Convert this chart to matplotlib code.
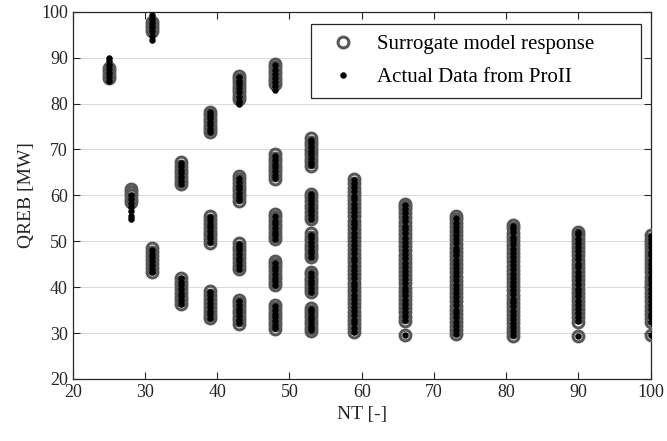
import numpy as np
import matplotlib
matplotlib.use("Agg")
import matplotlib.pyplot as plt

plt.rcParams['font.family'] = ['Liberation Serif', 'DejaVu Serif']

# ---- data ----
nt_values = [25, 28, 31, 35, 39, 43, 48, 53, 59, 66, 73, 81, 90, 100]

sur_25 = [85.6, 86.3, 87.0, 87.7]
act_25 = [85.0, 85.8, 86.7, 87.5, 88.4, 89.2, 90.0]

sur_28 = [58.6, 59.3, 60.0, 60.7, 61.4]
act_28 = [54.8, 55.6, 56.5, 57.4, 58.3, 59.2, 60.1]

sur_31 = [95.9, 96.5, 97.1, 97.7,
          43.2, 44.1, 45.0, 45.9, 46.7, 47.6, 48.5]
act_31 = [93.9, 94.8, 95.7, 96.6, 97.5, 98.4, 99.3,
          43.2, 44.0, 44.9, 45.7, 46.5, 47.3, 48.1]

sur_35 = [62.4, 63.2, 64.0, 64.8, 65.6, 66.4, 67.2,
          36.3, 37.1, 37.9, 38.7, 39.6, 40.4, 41.2, 42.0]
act_35 = [62.4, 63.2, 64.0, 64.8, 65.6, 66.4, 67.1,
          36.4, 37.2, 38.0, 38.8, 39.6, 40.4, 41.2, 41.9]

sur_39 = [73.8, 74.5, 75.2, 76.0, 76.7, 77.5, 78.2,
          49.7, 50.5, 51.3, 52.1, 52.9, 53.8, 54.6, 55.4,
          33.2, 34.0, 34.8, 35.7, 36.5, 37.4, 38.2, 39.1]
act_39 = [73.8, 74.5, 75.3, 76.0, 76.8, 77.5, 78.1,
          49.8, 50.6, 51.4, 52.2, 53.0, 53.8, 54.6, 55.3,
          33.3, 34.1, 34.9, 35.7, 36.5, 37.4, 38.2, 38.9]

sur_43 = [81.0, 81.7, 82.4, 83.1, 83.9, 84.6, 85.3, 86.0,
          58.8, 59.6, 60.4, 61.2, 61.9, 62.7, 63.5, 64.3,
          43.9, 44.7, 45.5, 46.3, 47.2, 48.0, 48.8, 49.6,
          32.0, 32.8, 33.5, 34.3, 35.0, 35.8, 36.5, 37.3]
act_43 = [79.8, 80.6, 81.5, 82.4, 83.3, 84.2, 85.0, 85.8,
          58.9, 59.7, 60.5, 61.3, 62.1, 62.9, 63.7,
          44.0, 44.8, 45.6, 46.4, 47.2, 48.0, 48.8, 49.4,
          32.1, 32.9, 33.7, 34.5, 35.3, 36.1, 36.9]

sur_48 = [84.2, 84.9, 85.6, 86.4, 87.1, 87.9, 88.6,
          63.6, 64.4, 65.2, 65.9, 66.7, 67.5, 68.2, 69.0,
          50.4, 51.2, 52.0, 52.8, 53.6, 54.4, 55.2, 56.0,
          40.4, 41.2, 41.9, 42.7, 43.5, 44.3, 45.0, 45.8,
          30.9, 31.7, 32.4, 33.2, 34.0, 34.7, 35.5, 36.2]
act_48 = [82.9, 83.8, 84.7, 85.6, 86.5, 87.4, 88.3,
          63.7, 64.5, 65.3, 66.1, 66.9, 67.7, 68.6,
          50.5, 51.3, 52.1, 52.9, 53.7, 54.5, 55.4,
          40.5, 41.3, 42.1, 42.9, 43.7, 44.5, 45.3,
          31.0, 31.8, 32.6, 33.4, 34.2, 35.0, 35.8]

sur_53 = [66.4, 67.2, 67.9, 68.7, 69.4, 70.2, 70.9, 71.7, 72.4,
          54.8, 55.6, 56.4, 57.2, 58.0, 58.8, 59.6, 60.4,
          46.5, 47.2, 48.0, 48.7, 49.5, 50.2, 51.0, 51.7,
          38.9, 39.5, 40.2, 40.8, 41.5, 42.1, 42.8, 43.4,
          30.5, 31.2, 31.9, 32.6, 33.4, 34.1, 34.8, 35.5]
act_53 = [66.5, 67.3, 68.1, 68.9, 69.7, 70.5, 71.3, 72.1,
          54.9, 55.7, 56.5, 57.3, 58.1, 58.9, 59.7, 60.3,
          46.6, 47.4, 48.2, 49.0, 49.8, 50.6, 51.4,
          39.0, 39.8, 40.6, 41.4, 42.2, 43.0,
          30.6, 31.4, 32.2, 33.0, 33.8, 34.6, 35.3]

sur_59 = [30.2, 31.1, 32.0, 32.9, 33.8, 34.7, 35.6, 36.5, 37.4, 38.3,
          39.2, 40.1, 41.0, 41.9, 42.8, 43.7, 44.6, 45.5, 46.4, 47.3,
          48.2, 49.1, 50.0, 50.9, 51.8, 52.7, 53.6, 54.5, 55.4, 56.3,
          57.2, 58.1, 59.0, 59.9, 60.8, 61.7, 62.6, 63.5]
act_59 = [30.3, 31.2, 32.1, 32.9, 33.9, 34.8, 35.6, 36.6, 37.5, 38.3,
          39.3, 40.2, 41.0, 42.0, 42.9, 43.7, 44.7, 45.6, 46.4, 47.4,
          48.3, 49.1, 50.1, 51.0, 51.8, 52.8, 53.7, 54.5, 55.5, 56.4,
          57.2, 58.2, 59.1, 59.9, 60.9, 61.8, 62.6, 63.3]

sur_66 = [29.5, 32.7, 33.6, 34.5, 35.4, 36.3, 37.2, 38.1, 39.0, 39.9,
          40.8, 41.7, 42.6, 43.5, 44.4, 45.3, 46.2, 47.1, 48.0, 48.9,
          49.8, 50.7, 51.6, 52.5, 53.4, 54.3, 55.2, 56.1, 57.0, 57.6,
          58.2]
act_66 = [29.5, 32.8, 33.7, 34.5, 35.5, 36.4, 37.2, 38.2, 39.1, 39.9,
          40.9, 41.8, 42.6, 43.6, 44.5, 45.3, 46.3, 47.2, 48.0, 49.0,
          49.9, 50.7, 51.7, 52.6, 53.4, 54.4, 55.3, 56.1, 57.1, 58.0]

sur_73 = [29.7, 30.6, 31.5, 32.4, 33.3, 34.2, 35.1, 36.0, 36.9, 37.8,
          38.7, 39.6, 40.5, 41.4, 42.3, 43.2, 44.1, 45.0, 45.9, 46.8,
          47.7, 48.6, 49.5, 50.4, 51.3, 52.2, 53.1, 54.0, 54.8, 55.5]
act_73 = [29.8, 30.7, 31.6, 32.4, 33.4, 34.3, 35.1, 36.1, 37.0, 37.8,
          38.8, 39.7, 40.5, 41.5, 42.4, 43.2, 44.2, 45.1, 45.9, 46.9,
          47.8, 48.6, 49.6, 50.5, 51.3, 52.3, 53.2, 54.0, 55.0]

sur_81 = [29.4, 30.3, 31.2, 32.1, 33.0, 33.9, 34.8, 35.7, 36.6, 37.5,
          38.4, 39.3, 40.2, 41.1, 42.0, 42.9, 43.8, 44.7, 45.6, 46.5,
          47.4, 48.3, 49.2, 50.1, 51.0, 51.9, 52.8, 53.6]
act_81 = [29.5, 30.4, 31.3, 32.1, 33.1, 34.0, 34.8, 35.8, 36.7, 37.5,
          38.5, 39.4, 40.2, 41.2, 42.1, 42.9, 43.9, 44.8, 45.6, 46.6,
          47.5, 48.3, 49.3, 50.2, 51.0, 52.0, 52.9, 53.4]

sur_90 = [29.4, 32.5, 33.4, 34.3, 35.2, 36.1, 37.0, 37.9, 38.8, 39.7,
          40.6, 41.5, 42.4, 43.3, 44.2, 45.1, 46.0, 46.9, 47.8, 48.7,
          49.6, 50.5, 51.3, 52.1]
act_90 = [29.4, 32.6, 33.5, 34.3, 35.3, 36.2, 37.0, 38.0, 38.9, 39.7,
          40.7, 41.6, 42.4, 43.4, 44.3, 45.1, 46.1, 47.0, 47.8, 48.8,
          49.7, 50.5, 51.5, 52.0]

sur_100 = [29.5, 32.4, 33.3, 34.2, 35.1, 36.0, 36.9, 37.8, 38.7, 39.6,
           40.5, 41.4, 42.3, 43.2, 44.1, 45.0, 45.9, 46.8, 47.7, 48.6,
           49.5, 50.4, 51.4]
act_100 = [29.5, 32.5, 33.4, 34.2, 35.2, 36.1, 36.9, 37.9, 38.8, 39.6,
           40.6, 41.5, 42.3, 43.3, 44.2, 45.0, 46.0, 46.9, 47.7, 48.7,
           49.6, 50.4, 51.2]

surrogate = [sur_25, sur_28, sur_31, sur_35, sur_39, sur_43, sur_48,
             sur_53, sur_59, sur_66, sur_73, sur_81, sur_90, sur_100]
actual = [act_25, act_28, act_31, act_35, act_39, act_43, act_48,
          act_53, act_59, act_66, act_73, act_81, act_90, act_100]

x_ticks = [20, 30, 40, 50, 60, 70, 80, 90, 100]
y_ticks = [20, 30, 40, 50, 60, 70, 80, 90, 100]

# ---- build point arrays ----
sx = np.concatenate([np.full(len(v), n) for n, v in zip(nt_values, surrogate)])
sy = np.concatenate([np.asarray(v, float) for v in surrogate])
axx = np.concatenate([np.full(len(v), n) for n, v in zip(nt_values, actual)])
ay = np.concatenate([np.asarray(v, float) for v in actual])

fig = plt.figure(figsize=(6.67, 4.41), dpi=100)
ax = fig.add_axes([0.109, 0.1406, 0.8666, 0.8329])

ax.plot(sx, sy, linestyle='none', marker='o', markersize=7.8,
        markerfacecolor='none', markeredgecolor='#585858',
        markeredgewidth=2.2, label='Surrogate model response', zorder=3)
ax.plot(axx, ay, linestyle='none', marker='o', markersize=4.3,
        markerfacecolor='black', markeredgecolor='black',
        markeredgewidth=0.3, label='Actual Data from ProII', zorder=4)

ax.set_xlim(20, 100)
ax.set_ylim(20, 100)
ax.set_xticks(x_ticks)
ax.set_yticks(y_ticks)
ax.yaxis.grid(True, color='#d9d9d9', linewidth=0.7)
ax.set_axisbelow(True)

ax.tick_params(direction='in', top=True, right=True, length=5,
               width=0.8, colors='#262626', labelsize=13)
for sp in ax.spines.values():
    sp.set_color('#262626')
    sp.set_linewidth(0.9)

ax.set_xlabel('NT [-]', fontsize=14, color='#262626')
ax.set_ylabel('QREB [MW]', fontsize=14, color='#262626')

leg = ax.legend(loc='upper left', bbox_to_anchor=(0.4118, 0.9665, 0.5714, 0.0),
                mode='expand', borderaxespad=0, fancybox=False, framealpha=1,
                edgecolor='#262626', fontsize=15, handlelength=2.05,
                handletextpad=0.6, borderpad=0.52, labelspacing=0.62)
leg.get_frame().set_linewidth(0.9)

fig.savefig('out.png', dpi=100)
